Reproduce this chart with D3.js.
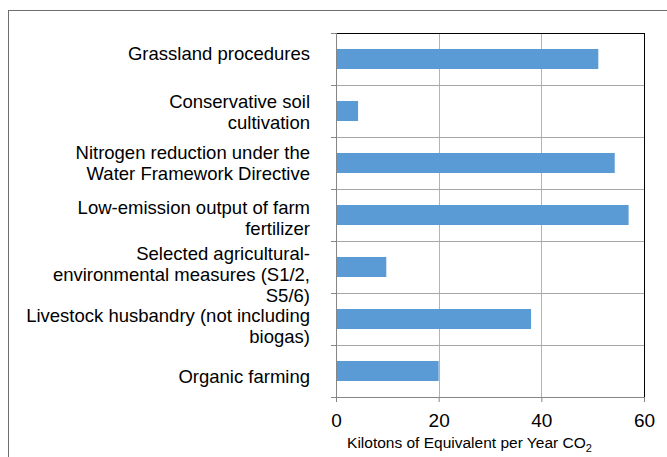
<!DOCTYPE html>
<html>
<head>
    <meta charset="utf-8">
    <title>Kilotons of Equivalent per Year CO2</title>
    <script src="https://d3js.org/d3.v7.min.js"></script>
    <style>
        body { margin: 0; background: #fff; }
        svg { display: block; font-family: "Liberation Sans", Arial, sans-serif; }
    </style>
</head>
<body>
    <svg width="667" height="457"></svg>
    <script>
        // Categories (top to bottom), each split into its wrapped lines
        var categories = [
            ["Grassland procedures"],
            ["Conservative soil", "cultivation"],
            ["Nitrogen reduction under the", "Water Framework Directive"],
            ["Low-emission output of farm", "fertilizer"],
            ["Selected agricultural-", "environmental measures (S1/2,", "S5/6)"],
            ["Livestock husbandry (not including", "biogas)"],
            ["Organic farming"]
        ];
        var values = [51.1, 4.3, 54.3, 57, 9.8, 38, 20];
        var xTicks = [0, 20, 40, 60];

        var svg = d3.select("svg"),
            margin = {top: 33, right: 23, bottom: 60, left: 336},
            width = 667 - margin.left - margin.right,
            height = 457 - margin.top - margin.bottom;

        // outer chart frame (cut by the window)
        svg.append("rect")
            .attr("x", 8.5).attr("y", 10.5)
            .attr("width", 700).attr("height", 500)
            .attr("fill", "none")
            .attr("stroke", "#6e6e6e");

        var g = svg.append("g").attr("transform", "translate(" + margin.left + "," + margin.top + ")");

        var keys = categories.map(function(d, i) { return i; });

        var x = d3.scaleLinear().domain([0, 60]).range([0, width]);
        var y = d3.scaleBand().domain(keys).range([0, height]);

        // vertical gridlines
        g.selectAll(".vgrid")
            .data(xTicks.slice(1, -1))
            .enter().append("line")
            .attr("x1", function(d) { return Math.round(x(d)) + 0.5; })
            .attr("x2", function(d) { return Math.round(x(d)) + 0.5; })
            .attr("y1", 0).attr("y2", height)
            .attr("stroke", "#b3b3b3");

        // horizontal gridlines at category boundaries
        g.selectAll(".hgrid")
            .data(keys.slice(1))
            .enter().append("line")
            .attr("x1", 0).attr("x2", width)
            .attr("y1", function(d) { return Math.round(y(d)) + 0.5; })
            .attr("y2", function(d) { return Math.round(y(d)) + 0.5; })
            .attr("stroke", "#a6a6a6");

        // bars
        var barH = y.bandwidth() * 0.385;
        g.selectAll(".bar")
            .data(values)
            .enter().append("rect")
            .attr("x", 0)
            .attr("y", function(d, i) { return y(i) + (y.bandwidth() - barH) / 2; })
            .attr("width", function(d) { return x(d); })
            .attr("height", barH)
            .attr("fill", "#5b9bd5");

        // plot border
        g.append("rect")
            .attr("x", 0.5).attr("y", 0.5)
            .attr("width", width).attr("height", height)
            .attr("fill", "none")
            .attr("stroke", "#000");

        // x axis
        var xAxis = g.append("g")
            .attr("transform", "translate(0," + height + ")")
            .call(d3.axisBottom(x).tickValues(xTicks).tickSize(5).tickPadding(12));
        xAxis.select(".domain").attr("stroke", "#868686");
        xAxis.selectAll(".tick line").attr("stroke", "#868686");
        xAxis.selectAll(".tick text")
            .attr("fill", "#000")
            .style("font-size", "19px")
            .style("font-family", "Liberation Sans, Arial, sans-serif");

        // y axis: ticks at band boundaries
        var bounds = keys.map(function(d) { return y(d); }).concat([height]);
        g.selectAll(".ytick")
            .data(bounds)
            .enter().append("line")
            .attr("x1", -5).attr("x2", 0)
            .attr("y1", function(d) { return Math.round(d) + 0.5; })
            .attr("y2", function(d) { return Math.round(d) + 0.5; })
            .attr("stroke", "#868686");
        g.append("line")
            .attr("x1", 0.5).attr("x2", 0.5)
            .attr("y1", 0).attr("y2", height)
            .attr("stroke", "#868686");

        // category labels
        var nudge = [-5.5, 0.5, 0, 2.5, 7, 7, 5.5];
        var lineH = 21;
        categories.forEach(function(lines, i) {
            var cy = y(i) + y.bandwidth() / 2 + nudge[i];
            var t = g.append("text")
                .attr("text-anchor", "end")
                .style("font-size", "18.5px")
                .attr("fill", "#000");
            lines.forEach(function(l, j) {
                t.append("tspan")
                    .attr("x", -26)
                    .attr("y", cy + 6.5 + (j - (lines.length - 1) / 2) * lineH)
                    .text(l);
            });
        });

        // axis title
        var title = svg.append("text")
            .attr("x", margin.left + x(26))
            .attr("y", 448)
            .attr("text-anchor", "middle")
            .style("font-size", "15.5px")
            .text("Kilotons of Equivalent per Year CO");
        title.append("tspan")
            .attr("dy", 4)
            .style("font-size", "11px")
            .text("2");
    </script>
</body>
</html>
